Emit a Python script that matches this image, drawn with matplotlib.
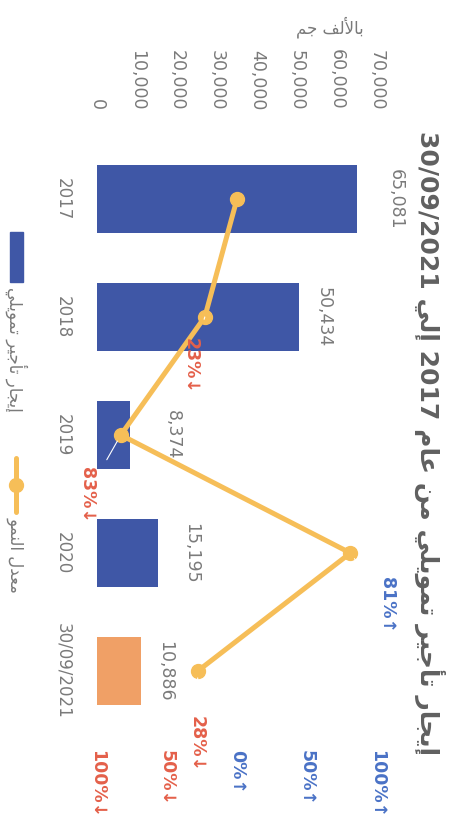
import matplotlib
matplotlib.use('Agg')
import matplotlib.pyplot as plt
from matplotlib.lines import Line2D
from matplotlib.patches import Rectangle

## DATA
categories = ['2017', '2018', '2019', '2020', '30/09/2021']
values = [65081, 50434, 8374, 15195, 10886]
growth = [0.00, -0.23, -0.83, 0.81, -0.28]
growth_labels = ['', '23%↓', '83%↓', '81%↑', '28%↓']
value_ticks = [0, 10000, 20000, 30000, 40000, 50000, 60000, 70000]
pct_ticks = [-1.0, -0.5, 0.0, 0.5, 1.0]
pct_tick_labels = ['100%↓', '50%↓', '0%↑', '50%↑', '100%↑']

title_txt = 'إيجار تأجير تمويلي من عام 2017 إلي 30/09/2021'
unit_txt = 'بالألف جم'
legend_bar_txt = 'إيجار تأجير تمويلي'
legend_line_txt = 'معدل النمو'


## minimal arabic shaping (matplotlib does no joining / bidi)
## forms: isolated, final, initial, medial
AR_FORMS = {
    '\u0627': ('\uFE8D', '\uFE8E', None, None),
    '\u0623': ('\uFE83', '\uFE84', None, None),
    '\u0625': ('\uFE87', '\uFE88', None, None),
    '\u0628': ('\uFE8F', '\uFE90', '\uFE91', '\uFE92'),
    '\u062A': ('\uFE95', '\uFE96', '\uFE97', '\uFE98'),
    '\u062C': ('\uFE9D', '\uFE9E', '\uFE9F', '\uFEA0'),
    '\u062F': ('\uFEA9', '\uFEAA', None, None),
    '\u0631': ('\uFEAD', '\uFEAE', None, None),
    '\u0639': ('\uFEC9', '\uFECA', '\uFECB', '\uFECC'),
    '\u0641': ('\uFED1', '\uFED2', '\uFED3', '\uFED4'),
    '\u0644': ('\uFEDD', '\uFEDE', '\uFEDF', '\uFEE0'),
    '\u0645': ('\uFEE1', '\uFEE2', '\uFEE3', '\uFEE4'),
    '\u0646': ('\uFEE5', '\uFEE6', '\uFEE7', '\uFEE8'),
    '\u0648': ('\uFEED', '\uFEEE', None, None),
    '\u064A': ('\uFEF1', '\uFEF2', '\uFEF3', '\uFEF4'),
}
LAM_ALEF = {'\u0627': ('\uFEFB', '\uFEFC'),
            '\u0623': ('\uFEF7', '\uFEF8'),
            '\u0625': ('\uFEF9', '\uFEFA')}


def shape_word(w):
    letters = []
    i = 0
    while i < len(w):
        if w[i] == '\u0644' and i + 1 < len(w) and w[i + 1] in LAM_ALEF:
            letters.append(('LA', w[i + 1]))
            i += 2
        else:
            letters.append(('C', w[i]))
            i += 1

    def joins_next(item):
        kind, c = item
        if kind == 'LA':
            return False
        f = AR_FORMS.get(c)
        return f is not None and f[2] is not None

    def joins_prev(item):
        kind, c = item
        return kind == 'LA' or c in AR_FORMS

    res = []
    for k, item in enumerate(letters):
        pj = k > 0 and joins_next(letters[k - 1]) and joins_prev(item)
        nj = k + 1 < len(letters) and joins_next(item) and joins_prev(letters[k + 1])
        kind, c = item
        if kind == 'LA':
            res.append(LAM_ALEF[c][1 if pj else 0])
        elif c not in AR_FORMS:
            res.append(c)
        else:
            f = AR_FORMS[c]
            if pj and nj:
                res.append(f[3])
            elif pj:
                res.append(f[1])
            elif nj:
                res.append(f[2])
            else:
                res.append(f[0])
    return ''.join(res)


def ar(text):
    out = []
    for w in reversed(text.split(' ')):
        if any(ch in AR_FORMS for ch in w):
            out.append(shape_word(w)[::-1])
        else:
            out.append(w)
    return ' '.join(out)


## styles
W, H = 454, 822
fx = lambda px: px / W
fy = lambda py: 1 - py / H

bar_blue = '#3F57A6'
bar_orange = '#F0A066'
bar_colors = [bar_blue, bar_blue, bar_blue, bar_blue, bar_orange]
line_color = '#F6BE58'
red = '#E4604A'
blue = '#4A72C6'
gray = '#7A7A7A'
title_gray = '#606060'
fontsize = 12.5

value_pad = [38, 25, 42, 33, 25]               # pixels beyond bar end
growth_off = [(0, 0), (-14, -49), (-34, -60), (37, -52), (-1, -73)]   # pixels

plt.rcParams['font.family'] = ['DejaVu Sans']

fig = plt.figure(figsize=(W / 100, H / 100), dpi=100)
ax = fig.add_axes([fx(97), fy(730), (377 - 97) / W, (730 - 140) / H])
pos = list(range(len(categories)))

ax.barh(pos, values, height=0.57, color=bar_colors, zorder=2)
ax.set_xlim(0, 70000)
ax.set_ylim(len(categories) - 0.5, -0.5)
ax.set_yticks(pos)
ax.set_yticklabels(categories, rotation=-90, fontsize=12, color=gray, va='center')
ax.tick_params('y', length=0, pad=18)
for s in ax.spines.values():
    s.set_visible(False)

for i, v in enumerate(values):
    ax.annotate('{:,}'.format(v), (v, i), xytext=(value_pad[i], 0),
                textcoords='offset pixels', rotation=-90, ha='center', va='center',
                fontsize=fontsize, color=gray)

## growth rate on the secondary axis
ax2 = ax.twiny()
ax2.set_xlim(-1, 1)
ax2.set_ylim(len(categories) - 0.5, -0.5)
ax2.xaxis.tick_bottom()
ax2.set_xticks(pct_ticks)
ax2.set_xticklabels(pct_tick_labels, rotation=-90, fontsize=fontsize,
                    fontweight='bold')
for t, p in zip(ax2.get_xticklabels(), pct_ticks):
    t.set_color(red if p < 0 else blue)
ax2.tick_params('x', length=0, pad=14.4)
for s in ax2.spines.values():
    s.set_visible(False)

## value axis on top (twiny resets it, so set it after)
ax.xaxis.tick_top()
ax.set_xticks(value_ticks)
ax.set_xticklabels(['{:,}'.format(v) for v in value_ticks], rotation=-90,
                   fontsize=fontsize, color=gray)
ax.tick_params('x', length=0, pad=21.6)

ax2.plot(growth, pos, color=line_color, lw=3.6, marker='o', ms=10,
         solid_capstyle='round', zorder=3)

for i, (g, lab) in enumerate(zip(growth, growth_labels)):
    if not lab:
        continue
    ax2.annotate(lab, (g, i), xytext=growth_off[i], textcoords='offset pixels',
                 rotation=-90, ha='center', va='center', fontsize=fontsize,
                 fontweight='bold', color=red if g < 0 else blue,
                 arrowprops=dict(arrowstyle='-', color='white', lw=0.8,
                                 shrinkA=12, shrinkB=5))

## title, unit, legend
fig.text(fx(430), fy(443), ar(title_txt), rotation=-90, ha='center', va='center',
         fontsize=18, fontweight='bold', color=title_gray)
fig.text(fx(330), fy(27), ar(unit_txt), ha='center', va='center',
         fontsize=12, color=gray)

fig.patches.append(Rectangle((fx(10), fy(282)), 13 / W, 50 / H,
                             transform=fig.transFigure, color=bar_blue))
fig.text(fx(16), fy(287), ar(legend_bar_txt), rotation=-90, ha='center', va='top',
         fontsize=12, color=gray)
fig.add_artist(Line2D([fx(16), fx(16)], [fy(458), fy(512)], transform=fig.transFigure,
                      color=line_color, lw=3.6, solid_capstyle='round'))
fig.add_artist(Line2D([fx(16)], [fy(485)], transform=fig.transFigure,
                      color=line_color, marker='o', ms=10))
fig.text(fx(16), fy(517), ar(legend_line_txt), rotation=-90, ha='center', va='top',
         fontsize=12, color=gray)

plt.savefig('out.png', dpi=100)
plt.close(fig)
